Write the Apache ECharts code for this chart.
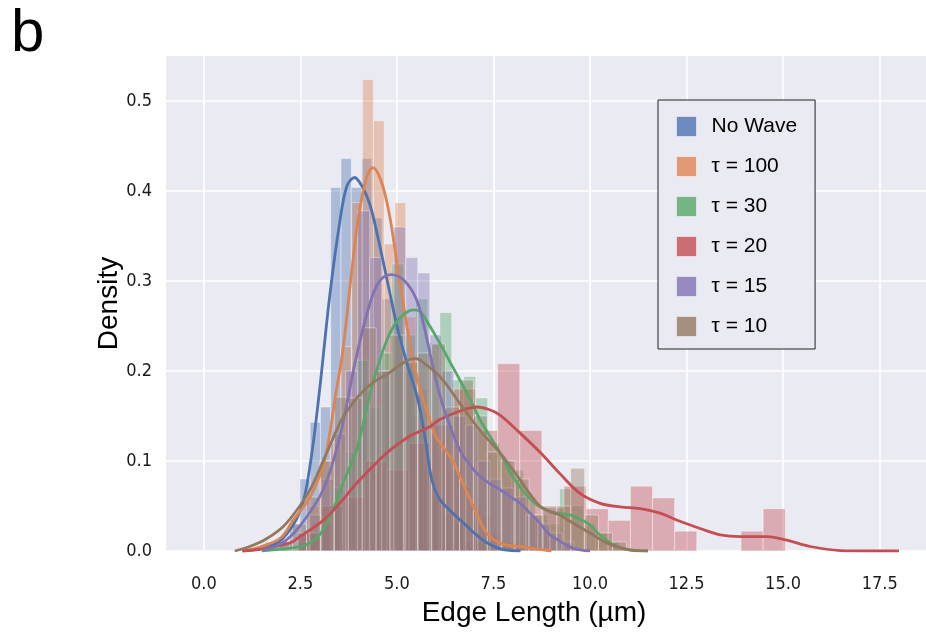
<!DOCTYPE html>
<html>
<head>
<meta charset="utf-8">
<script src="https://cdn.jsdelivr.net/npm/echarts@6/dist/echarts.min.js"></script>
<style>
  html, body { margin: 0; padding: 0; background: #ffffff; }
  #chart { width: 926px; height: 636px; }
</style>
</head>
<body>
<div id="chart"></div>
<script>
// Edge-length distributions: histogram (density) + KDE per condition.
const seriesNames = ['No Wave', 'τ = 100', 'τ = 30', 'τ = 20', 'τ = 15', 'τ = 10'];
const seriesColors = ['#4C72B0', '#DD8452', '#55A868', '#C44E52', '#8172B3', '#937860'];

const edgeLengthTicks = [0, 2.5, 5, 7.5, 10, 12.5, 15, 17.5];
const densityTicks = [0, 0.1, 0.2, 0.3, 0.4, 0.5];

// Histogram bins: first bin edge and bin width (µm) for each condition
const binStart = [1.955, 2.43, 2.39, 2.45, 2.43, 1.58];
const binWidth = [0.266, 0.28, 0.31, 0.573, 0.311, 0.36];

// Bin densities
const noWaveDensity = [0.01, 0.03, 0.08, 0.143, 0.16, 0.404, 0.436, 0.404, 0.436, 0.37,
  0.28, 0.26, 0.2, 0.15, 0.09, 0.06, 0.04, 0.03, 0.01, 0.01];
const tau100Density = [0.02, 0.05, 0.10, 0.12, 0.227, 0.387, 0.524, 0.478, 0.341, 0.387,
  0.26, 0.18, 0.13, 0.11, 0.09, 0.07, 0.05, 0.04, 0.02, 0.01, 0.01];
const tau30Density = [0.01, 0.02, 0.03, 0.07, 0.11, 0.212, 0.16, 0.22, 0.319, 0.24,
  0.28, 0.231, 0.265, 0.19, 0.194, 0.17, 0.12, 0.1, 0.09, 0.06,
  0.04, 0.03, 0.069, 0.05, 0.03, 0.02, 0.01];
const tau20Density = [0.02, 0.05, 0.06, 0.10, 0.09, 0.12, 0.14, 0.18, 0.134, 0.208,
  0.134, 0.048, 0.072, 0.047, 0.034, 0.072, 0.059, 0.022, 0, 0, 0.022, 0.047];
const tau15Density = [0.02, 0.04, 0.08, 0.13, 0.2, 0.378, 0.326, 0.2, 0.36, 0.326,
  0.309, 0.24, 0.2, 0.15, 0.14, 0.10, 0.08, 0.07, 0.06, 0.04, 0.03, 0.02, 0.01];
const tau10Density = [0.01, 0.01, 0.03, 0.06, 0.10, 0.171, 0.17, 0.248, 0.2, 0.24,
  0.21, 0.22, 0.23, 0.16, 0.19, 0.15, 0.11, 0.10, 0.08, 0.04,
  0.05, 0.05, 0.092, 0.04, 0.02, 0.01];

// Kernel density estimates, [edge length, density]
const noWaveKde = [[1.0, 0], [1.5, 0.003], [2.0, 0.012], [2.5, 0.045], [2.75, 0.095], [3.0, 0.18],
  [3.25, 0.28], [3.5, 0.36], [3.7, 0.405], [3.9, 0.415], [4.1, 0.405], [4.3, 0.385], [4.5, 0.35],
  [4.8, 0.29], [5.0, 0.25], [5.25, 0.21], [5.5, 0.175], [5.6, 0.157], [5.75, 0.12], [5.9, 0.08],
  [6.1, 0.058], [6.45, 0.042], [6.8, 0.028], [7.0, 0.02], [7.3, 0.01], [7.7, 0.002], [8.2, 0]];
const tau100Kde = [[1.0, 0], [1.5, 0.005], [2.0, 0.015], [2.31, 0.034], [2.75, 0.06], [3.05, 0.09],
  [3.2, 0.115], [3.4, 0.17], [3.6, 0.223], [3.8, 0.3], [4.0, 0.37], [4.2, 0.413], [4.38, 0.426],
  [4.6, 0.41], [4.8, 0.375], [5.0, 0.32], [5.2, 0.265], [5.4, 0.215], [5.6, 0.18], [5.8, 0.152],
  [6.0, 0.128], [6.2, 0.115], [6.45, 0.1], [6.7, 0.076], [6.9, 0.057], [7.1, 0.038], [7.32, 0.02],
  [7.6, 0.01], [7.93, 0.006], [8.2, 0.005], [8.5, 0.003], [9.0, 0]];
const tau30Kde = [[1.5, 0], [2.0, 0.002], [2.5, 0.005], [2.75, 0.009], [3.0, 0.018], [3.34, 0.045],
  [3.6, 0.075], [3.95, 0.112], [4.2, 0.155], [4.38, 0.187], [4.7, 0.23], [5.0, 0.255], [5.42, 0.268],
  [5.6, 0.266], [5.85, 0.25], [6.11, 0.231], [6.4, 0.208], [6.63, 0.19], [6.9, 0.168], [7.15, 0.146],
  [7.4, 0.128], [7.67, 0.109], [7.9, 0.09], [8.19, 0.071], [8.45, 0.058], [8.7, 0.049], [9.0, 0.043],
  [9.22, 0.042], [9.48, 0.04], [9.75, 0.035], [10.0, 0.029], [10.2, 0.02], [10.43, 0.012],
  [10.7, 0.005], [11.1, 0.001], [11.5, 0]];
const tau20Kde = [[1.0, 0], [1.62, 0.003], [2.23, 0.009], [2.49, 0.016], [3.09, 0.034], [3.52, 0.053],
  [3.95, 0.075], [4.4, 0.095], [4.82, 0.112], [5.3, 0.127], [5.6, 0.133], [5.85, 0.138], [6.11, 0.146],
  [6.6, 0.155], [7.06, 0.16], [7.4, 0.157], [7.67, 0.151], [8.19, 0.131], [8.7, 0.11], [9.22, 0.086],
  [9.74, 0.064], [10.26, 0.053], [10.78, 0.049], [11.3, 0.047], [11.81, 0.042], [12.33, 0.033],
  [12.85, 0.025], [13.37, 0.018], [13.89, 0.016], [14.58, 0.016], [15.1, 0.012], [15.7, 0.005],
  [16.48, 0.0005], [17.2, 0], [18.0, 0]];
const tau15Kde = [[1.5, 0.001], [2.0, 0.008], [2.49, 0.028], [3.09, 0.068], [3.52, 0.127], [3.95, 0.216],
  [4.3, 0.275], [4.55, 0.3], [4.86, 0.307], [5.2, 0.3], [5.5, 0.28], [5.7, 0.25], [5.93, 0.205],
  [6.1, 0.175], [6.29, 0.149], [6.63, 0.112], [6.9, 0.095], [7.15, 0.083], [7.4, 0.075], [7.67, 0.068],
  [7.95, 0.06], [8.19, 0.053], [8.45, 0.042], [8.7, 0.031], [8.96, 0.018], [9.22, 0.011],
  [9.57, 0.003], [10.0, 0]];
const tau10Kde = [[0.8, 0], [1.19, 0.005], [1.6, 0.013], [2.05, 0.027], [2.4, 0.045], [2.75, 0.068],
  [3.09, 0.1], [3.52, 0.142], [3.7, 0.155], [4.0, 0.172], [4.38, 0.187], [4.8, 0.198], [5.2, 0.21],
  [5.47, 0.214], [5.6, 0.212], [6.11, 0.194], [6.63, 0.164], [7.15, 0.134], [7.67, 0.109],
  [8.19, 0.079], [8.45, 0.063], [8.7, 0.05], [8.96, 0.044], [9.22, 0.04], [9.48, 0.033],
  [10.0, 0.02], [10.43, 0.009], [11.04, 0.001], [11.5, 0]];

const densities = [noWaveDensity, tau100Density, tau30Density, tau20Density, tau15Density, tau10Density];
const kdes = [noWaveKde, tau100Kde, tau30Kde, tau20Kde, tau15Kde, tau10Kde];

function rgba(hex, a) {
  const n = parseInt(hex.slice(1), 16);
  return 'rgba(' + (n >> 16) + ',' + ((n >> 8) & 255) + ',' + (n & 255) + ',' + a + ')';
}

// Rows of [binLeft, binRight, density]
function binRows(i) {
  return densities[i].map((d, k) => [
    binStart[i] + k * binWidth[i],
    binStart[i] + (k + 1) * binWidth[i],
    d
  ]);
}

const histSeries = seriesNames.map((name, i) => ({
  name: name,
  type: 'custom',
  z: 1,
  clip: true,
  itemStyle: { color: rgba(seriesColors[i], 0.8) },
  encode: { x: [0, 1], y: 2 },
  data: binRows(i),
  renderItem: (params, api) => {
    const topLeft = api.coord([api.value(0), api.value(2)]);
    const bottomRight = api.coord([api.value(1), 0]);
    return {
      type: 'rect',
      shape: {
        x: topLeft[0],
        y: topLeft[1],
        width: bottomRight[0] - topLeft[0],
        height: bottomRight[1] - topLeft[1]
      },
      style: {
        fill: rgba(seriesColors[i], 0.4),
        stroke: 'rgba(255,255,255,0.4)',
        lineWidth: 1
      }
    };
  }
}));

const kdeSeries = seriesNames.map((name, i) => ({
  name: name,
  type: 'line',
  z: 3,
  smooth: 0.35,
  symbol: 'none',
  clip: true,
  lineStyle: { color: seriesColors[i], width: 2.8 },
  itemStyle: { color: seriesColors[i] },
  data: kdes[i]
}));

const tickFont = '"Liberation Sans Narrow", "DejaVu Sans Condensed", "Liberation Sans", sans-serif';

const chart = echarts.init(document.getElementById('chart'), null, { renderer: 'canvas' });

chart.setOption({
  animation: false,
  backgroundColor: '#ffffff',
  grid: {
    left: 166, top: 56, right: 0, bottom: 85,
    show: true,
    backgroundColor: '#EAEAF2',
    borderWidth: 0,
    outerBoundsMode: 'none'
  },
  xAxis: {
    type: 'value',
    min: -0.98,
    max: 18.7,
    axisLine: { show: false },
    axisTick: { show: false, customValues: edgeLengthTicks },
    axisLabel: {
      customValues: edgeLengthTicks,
      formatter: v => v.toFixed(1),
      margin: 24,
      fontSize: 18,
      color: '#1a1a1a',
      fontFamily: tickFont
    },
    splitLine: { show: true, lineStyle: { color: '#ffffff', width: 1.6 } },
    name: 'Edge Length (µm)',
    nameLocation: 'middle',
    nameGap: 48,
    nameMoveOverlap: false,
    nameTextStyle: {
      fontSize: 28,
      color: '#000000',
      fontFamily: '"Liberation Sans", Arial, sans-serif',
      padding: [0, 24, 0, 0]
    }
  },
  yAxis: {
    type: 'value',
    min: 0,
    max: 0.55,
    axisLine: { show: false },
    axisTick: { show: false, customValues: densityTicks },
    axisLabel: {
      customValues: densityTicks,
      formatter: v => v.toFixed(1),
      margin: 14,
      fontSize: 18,
      color: '#1a1a1a',
      fontFamily: tickFont
    },
    splitLine: { show: true, lineStyle: { color: '#ffffff', width: 1.6 } },
    name: 'Density',
    nameLocation: 'middle',
    nameGap: 43,
    nameMoveOverlap: false,
    nameRotate: 90,
    nameTextStyle: {
      fontSize: 28,
      color: '#000000',
      fontFamily: '"Liberation Sans", Arial, sans-serif'
    }
  },
  legend: {
    orient: 'vertical',
    left: 658,
    top: 100,
    backgroundColor: '#EAEAF2',
    borderColor: '#222222',
    borderWidth: 1,
    borderRadius: 0,
    padding: [16, 18, 12, 18],
    itemWidth: 20,
    itemHeight: 20,
    itemGap: 19,
    selectedMode: false,
    icon: 'rect',
    textStyle: {
      fontSize: 21,
      color: '#000000',
      fontFamily: '"Liberation Sans", Arial, sans-serif',
      padding: [0, 0, 0, 10]
    },
    data: seriesNames.map((name, i) => ({
      name: name,
      icon: 'rect',
      itemStyle: { color: rgba(seriesColors[i], 0.8), borderColor: 'rgba(255,255,255,0.5)', borderWidth: 1 }
    }))
  },
  graphic: [{
    type: 'text',
    left: 11,
    top: 4,
    style: {
      text: 'b',
      fontSize: 60,
      fill: '#000000',
      fontFamily: '"Liberation Sans", Arial, sans-serif'
    }
  }],
  series: histSeries.concat(kdeSeries)
});
</script>
</body>
</html>
